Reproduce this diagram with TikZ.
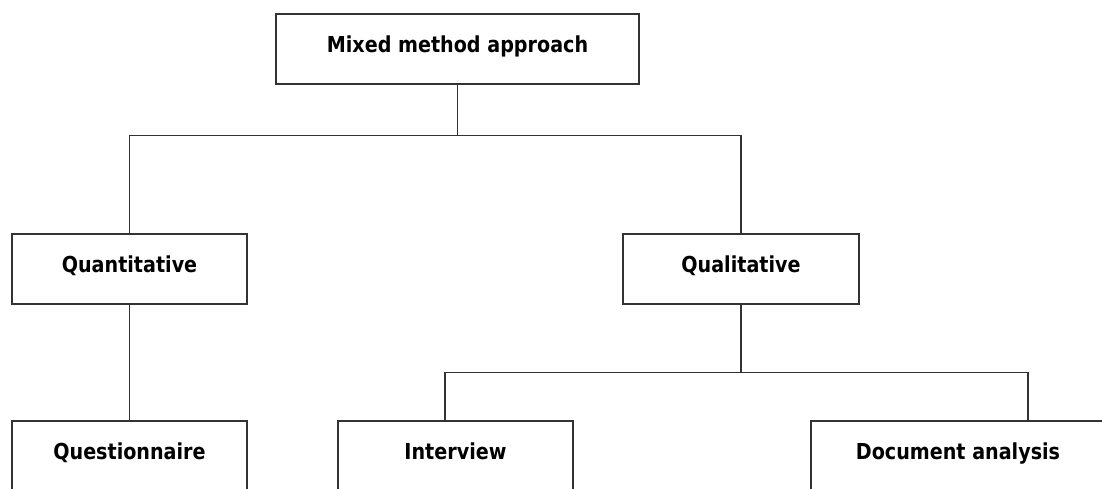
\documentclass[tikz,border=0pt]{standalone}
\usepackage{fontspec}
\newfontfamily\boxfont[FakeStretch=0.87]{DejaVu Sans}
\usetikzlibrary{positioning}

\begin{document}
\begin{tikzpicture}
[x=1pt, y=1pt,
  box/.style = {draw=black!80, line width=1.4pt, inner xsep=0pt, inner ysep=0pt,
    font=\boxfont\bfseries\fontsize{22}{26}\selectfont,
    text height=38pt, text depth=32pt, anchor=base},
  leaf/.style = {box, text depth=48pt},
  link/.style = {draw=black!80, line width=1.4pt}]
\useasboundingbox (0,0) rectangle (1102,-488);
\fill[white] (0,0) rectangle (1102,-488);
% nodes
\node [box, minimum width=363pt] (mixed) at (457.5,-52) {Mixed method approach};
\node [box, minimum width=235pt] (quant) at (129.5,-272) {Quantitative};
\node [box, minimum width=236pt] (qual) at (741,-272) {Qualitative};
\node [leaf, minimum width=235pt] (quest) at (129.5,-459) {Questionnaire};
\node [leaf, minimum width=235pt] (interview) at (455.5,-459) {Interview};
\node [leaf, minimum width=294pt] (docs) at (958,-459) {Document analysis};
% connectors
\coordinate (intv top) at ([xshift=-10.5pt]interview.north);
\coordinate (docs top) at ([xshift=70pt]docs.north);
\draw [link] (mixed.south) -- ++(0,-51) coordinate (fork1);
\draw [link] (quant.north) |- (fork1) -| (qual.north);
\draw [link] (quant) -- (quest);
\draw [link] (qual.south) -- ++(0,-68) coordinate (fork2);
\draw [link] (intv top) |- (fork2) -| (docs top);
\end{tikzpicture}
\end{document}
